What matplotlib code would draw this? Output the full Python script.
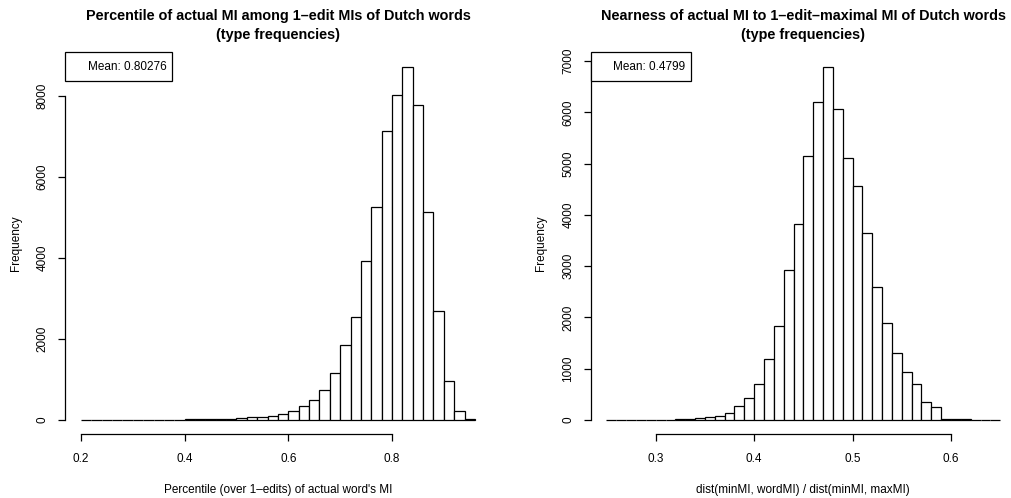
import matplotlib
matplotlib.use("Agg")
import matplotlib.pyplot as plt
import numpy as np
from matplotlib.lines import Line2D

plt.rcParams["font.family"] = ["Liberation Sans", "DejaVu Sans"]

# left histogram: bins of 0.02 starting at 0.20
pct_start = 0.20
pct_width = 0.02
pct_counts = [4, 6, 3, 5, 4, 6, 5, 7, 8, 9,
              11, 13, 16, 33, 18, 41, 64, 72, 107, 140,
              222, 350, 498, 745, 1152, 1852, 2551, 3918, 5251, 7144,
              8025, 8724, 7778, 5136, 2700, 963, 214, 20]
pct_xticks = [0.2, 0.4, 0.6, 0.8]
pct_yticks = [0, 2000, 4000, 6000, 8000]
pct_mean = "0.80276"

# right histogram: bins of 0.01 starting at 0.25
near_start = 0.25
near_width = 0.01
near_counts = [2, 1, 3, 2, 4, 5, 7, 11, 20, 39,
               52, 80, 138, 264, 427, 706, 1188, 1826, 2933, 3818,
               5146, 6195, 6891, 6071, 5107, 4554, 3636, 2601, 1885, 1305,
               941, 700, 342, 257, 23, 14, 8, 5, 3, 2]
near_xticks = [0.3, 0.4, 0.5, 0.6]
near_yticks = [0, 1000, 2000, 3000, 4000, 5000, 6000, 7000]
near_mean = "0.4799"

W, H = 1011, 498
FS = 8.5


def r_hist(ax, start, width, counts, xticks, yticks, title, xlabel, mean):
    counts = np.asarray(counts, dtype=float)
    edges = start + width * np.arange(len(counts) + 1)
    ax.bar(edges[:-1], counts, width=width, align="edge",
           facecolor="white", edgecolor="black", linewidth=0.9)

    # R style 4% padding
    xr = edges[-1] - edges[0]
    ax.set_xlim(edges[0] - 0.04 * xr, edges[-1] + 0.04 * xr)
    top = counts.max()
    ax.set_ylim(-0.04 * top, 1.04 * top)

    for side in ("top", "right"):
        ax.spines[side].set_visible(False)
    ax.spines["left"].set_bounds(yticks[0], yticks[-1])
    ax.spines["bottom"].set_bounds(xticks[0], xticks[-1])
    for side in ("left", "bottom"):
        ax.spines[side].set_linewidth(0.9)

    ax.set_xticks(xticks)
    ax.set_xticklabels([f"{t:g}" for t in xticks])
    ax.set_yticks(yticks)
    ax.set_yticklabels([str(t) for t in yticks], rotation=90, va="center")
    ax.tick_params(length=5.3, width=0.9, labelsize=FS)
    ax.tick_params(axis="x", pad=8.5)
    ax.tick_params(axis="y", pad=6.5)

    ax.set_title(title, fontsize=10.4, fontweight="bold", pad=10, linespacing=1.4)
    ax.set_xlabel(xlabel, fontsize=FS, labelpad=13.5)
    ax.set_ylabel("Frequency", fontsize=FS, labelpad=11)

    leg = ax.legend(handles=[Line2D([], [], linestyle="none")],
                    labels=[f"Mean: {mean}"], loc="upper left",
                    bbox_to_anchor=(0, 1), borderaxespad=0, fancybox=False,
                    edgecolor="black", framealpha=1, fontsize=FS,
                    handlelength=1.0, handletextpad=0.4, borderpad=0.5,
                    handleheight=1.75)
    leg.get_frame().set_linewidth(0.9)


def main():
    fig = plt.figure(figsize=(W / 100, H / 100), dpi=100)
    bottom = (H - 434) / H
    height = (434 - 52.5) / H
    ax1 = fig.add_axes([65.2 / W, bottom, 425.5 / W, height])
    ax2 = fig.add_axes([590.7 / W, bottom, 425.3 / W, height])

    r_hist(ax1, pct_start, pct_width, pct_counts, pct_xticks, pct_yticks,
           "Percentile of actual MI among 1\u2013edit MIs of Dutch words\n(type frequencies)",
           "Percentile (over 1\u2013edits) of actual word's MI", pct_mean)
    r_hist(ax2, near_start, near_width, near_counts, near_xticks, near_yticks,
           "Nearness of actual MI to 1\u2013edit\u2013maximal MI of Dutch words\n(type frequencies)",
           "dist(minMI, wordMI) / dist(minMI, maxMI)", near_mean)

    fig.savefig("out.png", dpi=100)


if __name__ == "__main__":
    main()
